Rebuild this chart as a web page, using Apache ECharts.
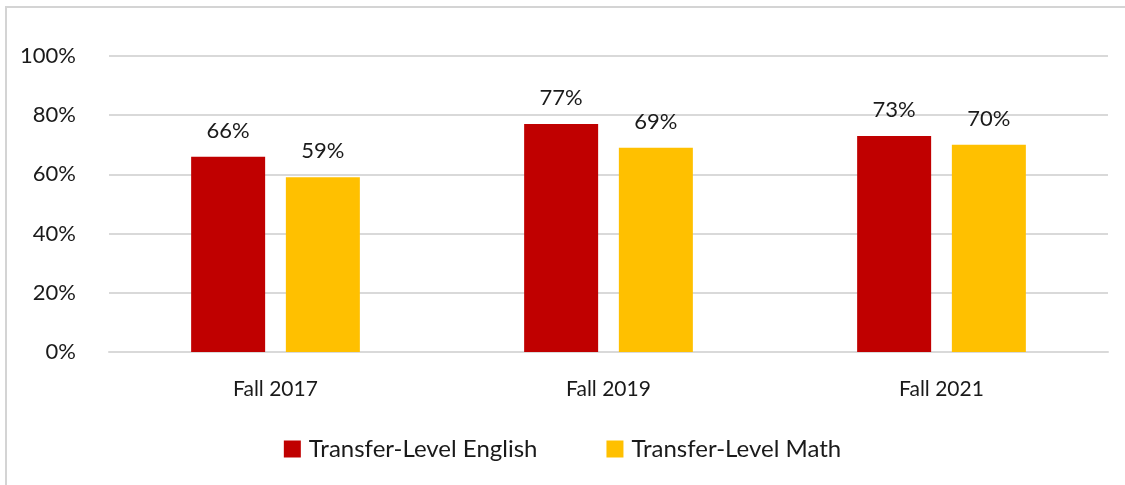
<!DOCTYPE html>
<html>
<head>
<meta charset="utf-8">
<script src="https://cdn.jsdelivr.net/npm/echarts@6/dist/echarts.min.js"></script>
<style>
  html, body { margin: 0; padding: 0; background: #fff; }
  #frame {
    position: absolute; left: 5px; top: 6px; width: 1120px; height: 479px;
    border-left: 2px solid #d4d4d4; border-top: 2px solid #d4d4d4;
  }
  #chart1 { position: absolute; left: 0; top: 0; width: 1125px; height: 485px; }
</style>
</head>
<body>
<div id="frame"></div>
<div id="chart1"></div>
<script>
// 数据
var categories = ['Fall 2017', 'Fall 2019', 'Fall 2021']
var seriesNames = ['Transfer-Level English', 'Transfer-Level Math']
var englishValues = [66, 77, 73]
var mathValues = [59, 69, 70]

var fontFamily = 'Lato, "Open Sans", sans-serif'

function drawChart (id) {
  let charts = echarts.init(document.getElementById(id))
  let option = {
    textStyle: { fontFamily: fontFamily },
    grid: {
      left: 109,
      right: 17,
      top: 56,
      bottom: 133
    },
    legend: {
      top: 432,
      itemWidth: 17,
      itemHeight: 17,
      itemGap: 69,
      icon: 'rect',
      textStyle: {
        fontFamily: fontFamily,
        fontSize: 24,
        color: '#1a1a1a',
        padding: [0, 0, 0, 3]
      },
      data: seriesNames
    },
    xAxis: [
      {
        type: 'category',
        data: categories,
        axisLine: { lineStyle: { color: '#d9d9d9', width: 2 } },
        axisTick: { show: false },
        axisLabel: {
          margin: 27,
          fontSize: 21,
          color: '#1a1a1a',
          fontFamily: fontFamily
        }
      }
    ],
    yAxis: [
      {
        type: 'value',
        min: 0,
        max: 100,
        interval: 20,
        axisLine: { show: false },
        axisTick: { show: false },
        splitLine: { lineStyle: { color: '#d9d9d9', width: 2 } },
        axisLabel: {
          margin: 33,
          fontSize: 22,
          color: '#1a1a1a',
          fontFamily: fontFamily,
          formatter: '{value}%'
        }
      }
    ],
    series: [
      {
        name: seriesNames[0],
        type: 'bar',
        barWidth: 74,
        barGap: '28%',
        data: englishValues,
        itemStyle: { color: '#C00000' },
        label: {
          show: true,
          position: 'top',
          distance: 15,
          fontSize: 22,
          color: '#1a1a1a',
          fontFamily: fontFamily,
          formatter: '{c}%'
        }
      },
      {
        name: seriesNames[1],
        type: 'bar',
        barWidth: 74,
        data: mathValues,
        itemStyle: { color: '#FFC000' },
        label: {
          show: true,
          position: 'top',
          distance: 15,
          fontSize: 22,
          color: '#1a1a1a',
          fontFamily: fontFamily,
          formatter: '{c}%'
        }
      }
    ]
  }
  charts.setOption(option)
  window.addEventListener('resize', function () {
    charts.resize()
  })
}

drawChart('chart1')
</script>
</body>
</html>
